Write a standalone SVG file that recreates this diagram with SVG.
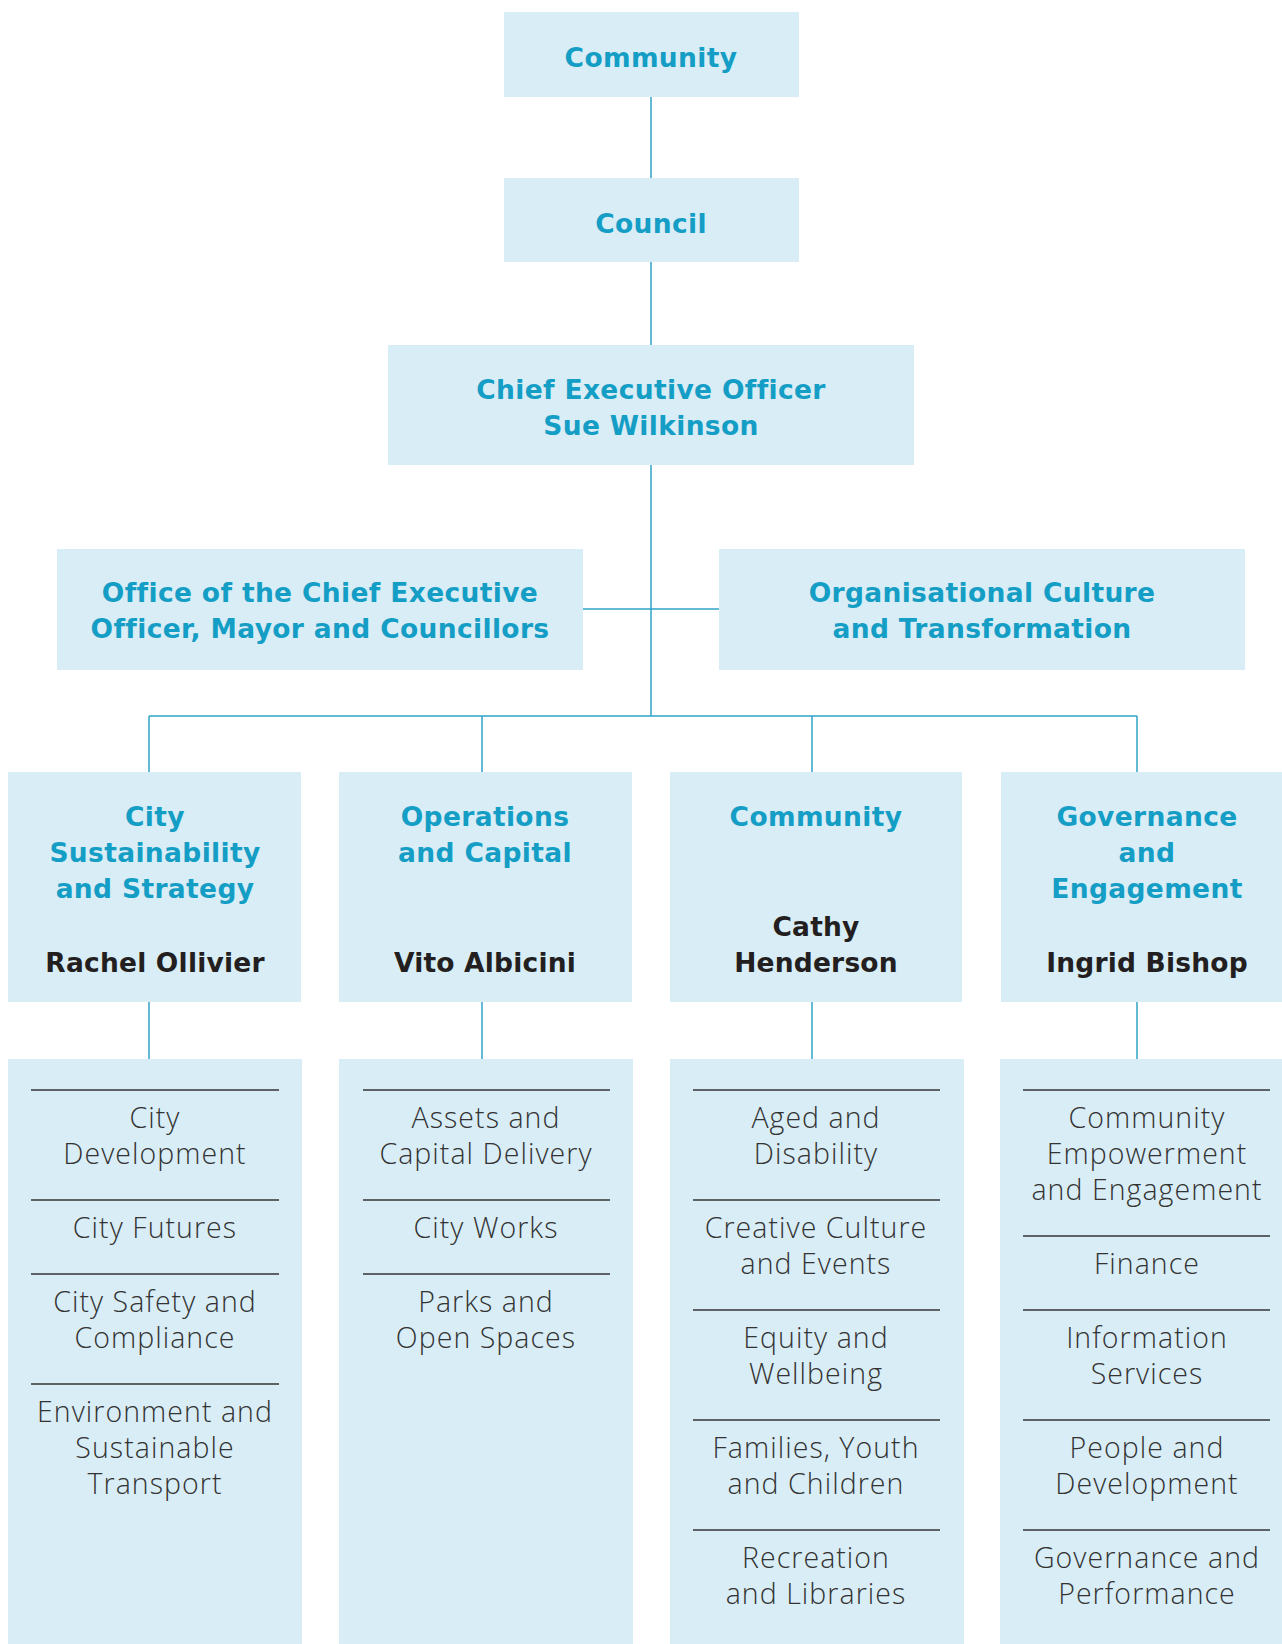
<svg xmlns="http://www.w3.org/2000/svg" width="1282" height="1644" viewBox="0 0 1282 1644">
<style>
.box{fill:#d9edf6}
.h{font-family:"DejaVu Sans",Verdana,sans-serif;font-weight:bold;font-size:26.5px;letter-spacing:0.35px;fill:#149ec5;text-anchor:middle}
.n{font-family:"DejaVu Sans",Verdana,sans-serif;font-weight:bold;font-size:26.5px;letter-spacing:0.2px;fill:#231f20;text-anchor:middle}
.b{font-family:"Open Sans","Lato",sans-serif;font-weight:300;font-size:28.5px;letter-spacing:1.05px;fill:#333333;text-anchor:middle}
.c{stroke:#2ea3c8;stroke-width:1.5;fill:none}
.d{stroke:#333333;stroke-width:1.5}
</style>
<rect width="1282" height="1644" fill="#ffffff"/>
<g id="connectors" class="c">
<line x1="651" y1="97" x2="651" y2="178"/>
<line x1="651" y1="262" x2="651" y2="345"/>
<line x1="651" y1="465" x2="651" y2="716"/>
<line x1="583" y1="609" x2="719" y2="609"/>
<line x1="149" y1="716" x2="1137" y2="716"/>
<line x1="149" y1="716" x2="149" y2="772"/>
<line x1="482" y1="716" x2="482" y2="772"/>
<line x1="812" y1="716" x2="812" y2="772"/>
<line x1="1137" y1="716" x2="1137" y2="772"/>
<line x1="149" y1="1002" x2="149" y2="1059"/>
<line x1="482" y1="1002" x2="482" y2="1059"/>
<line x1="812" y1="1002" x2="812" y2="1059"/>
<line x1="1137" y1="1002" x2="1137" y2="1059"/>
</g>
<g id="community-top">
<rect class="box" x="504" y="12" width="295" height="85"/>
<text class="h" x="651" y="67">Community</text>
</g>
<g id="council">
<rect class="box" x="504" y="178" width="295" height="84"/>
<text class="h" x="651" y="233">Council</text>
</g>
<g id="ceo">
<rect class="box" x="388" y="345" width="526" height="120"/>
<text class="h" x="651" y="399">Chief Executive Officer</text>
<text class="h" x="651" y="435">Sue Wilkinson</text>
</g>
<g id="office">
<rect class="box" x="57" y="549" width="526" height="121"/>
<text class="h" x="320" y="602">Office of the Chief Executive</text>
<text class="h" x="320" y="638">Officer, Mayor and Councillors</text>
</g>
<g id="culture">
<rect class="box" x="719" y="549" width="526" height="121"/>
<text class="h" x="982" y="602">Organisational Culture</text>
<text class="h" x="982" y="638">and Transformation</text>
</g>
<g id="city-sustainability">
<rect class="box" x="8" y="772" width="293" height="230"/>
<text class="h" x="155" y="826">City</text>
<text class="h" x="155" y="862">Sustainability</text>
<text class="h" x="155" y="898">and Strategy</text>
<text class="n" x="155" y="972">Rachel Ollivier</text>
</g>
<g id="operations">
<rect class="box" x="339" y="772" width="293" height="230"/>
<text class="h" x="485" y="826">Operations</text>
<text class="h" x="485" y="862">and Capital</text>
<text class="n" x="485" y="972">Vito Albicini</text>
</g>
<g id="community-dept">
<rect class="box" x="670" y="772" width="292" height="230"/>
<text class="h" x="816" y="826">Community</text>
<text class="n" x="816" y="936">Cathy</text>
<text class="n" x="816" y="972">Henderson</text>
</g>
<g id="governance">
<rect class="box" x="1001" y="772" width="281" height="230"/>
<text class="h" x="1147" y="826">Governance</text>
<text class="h" x="1147" y="862">and</text>
<text class="h" x="1147" y="898">Engagement</text>
<text class="n" x="1147" y="972">Ingrid Bishop</text>
</g>
<g id="units-city">
<rect class="box" x="8" y="1059" width="294" height="585"/>
<line class="d" x1="31" y1="1090" x2="279" y2="1090"/>
<text class="b" x="155" y="1128">City</text>
<text class="b" x="155" y="1164">Development</text>
<line class="d" x1="31" y1="1200" x2="279" y2="1200"/>
<text class="b" x="155" y="1238">City Futures</text>
<line class="d" x1="31" y1="1274" x2="279" y2="1274"/>
<text class="b" x="155" y="1312">City Safety and</text>
<text class="b" x="155" y="1348">Compliance</text>
<line class="d" x1="31" y1="1384" x2="279" y2="1384"/>
<text class="b" x="155" y="1422">Environment and</text>
<text class="b" x="155" y="1458">Sustainable</text>
<text class="b" x="155" y="1494">Transport</text>
</g>
<g id="units-operations">
<rect class="box" x="339" y="1059" width="294" height="585"/>
<line class="d" x1="363" y1="1090" x2="610" y2="1090"/>
<text class="b" x="486" y="1128">Assets and</text>
<text class="b" x="486" y="1164">Capital Delivery</text>
<line class="d" x1="363" y1="1200" x2="610" y2="1200"/>
<text class="b" x="486" y="1238">City Works</text>
<line class="d" x1="363" y1="1274" x2="610" y2="1274"/>
<text class="b" x="486" y="1312">Parks and</text>
<text class="b" x="486" y="1348">Open Spaces</text>
</g>
<g id="units-community">
<rect class="box" x="670" y="1059" width="294" height="585"/>
<line class="d" x1="693" y1="1090" x2="940" y2="1090"/>
<text class="b" x="816" y="1128">Aged and</text>
<text class="b" x="816" y="1164">Disability</text>
<line class="d" x1="693" y1="1200" x2="940" y2="1200"/>
<text class="b" x="816" y="1238">Creative Culture</text>
<text class="b" x="816" y="1274">and Events</text>
<line class="d" x1="693" y1="1310" x2="940" y2="1310"/>
<text class="b" x="816" y="1348">Equity and</text>
<text class="b" x="816" y="1384">Wellbeing</text>
<line class="d" x1="693" y1="1420" x2="940" y2="1420"/>
<text class="b" x="816" y="1458">Families, Youth</text>
<text class="b" x="816" y="1494">and Children</text>
<line class="d" x1="693" y1="1530" x2="940" y2="1530"/>
<text class="b" x="816" y="1568">Recreation</text>
<text class="b" x="816" y="1604">and Libraries</text>
</g>
<g id="units-governance">
<rect class="box" x="1000" y="1059" width="282" height="585"/>
<line class="d" x1="1023" y1="1090" x2="1270" y2="1090"/>
<text class="b" x="1147" y="1128">Community</text>
<text class="b" x="1147" y="1164">Empowerment</text>
<text class="b" x="1147" y="1200">and Engagement</text>
<line class="d" x1="1023" y1="1236" x2="1270" y2="1236"/>
<text class="b" x="1147" y="1274">Finance</text>
<line class="d" x1="1023" y1="1310" x2="1270" y2="1310"/>
<text class="b" x="1147" y="1348">Information</text>
<text class="b" x="1147" y="1384">Services</text>
<line class="d" x1="1023" y1="1420" x2="1270" y2="1420"/>
<text class="b" x="1147" y="1458">People and</text>
<text class="b" x="1147" y="1494">Development</text>
<line class="d" x1="1023" y1="1530" x2="1270" y2="1530"/>
<text class="b" x="1147" y="1568">Governance and</text>
<text class="b" x="1147" y="1604">Performance</text>
</g>
</svg>
